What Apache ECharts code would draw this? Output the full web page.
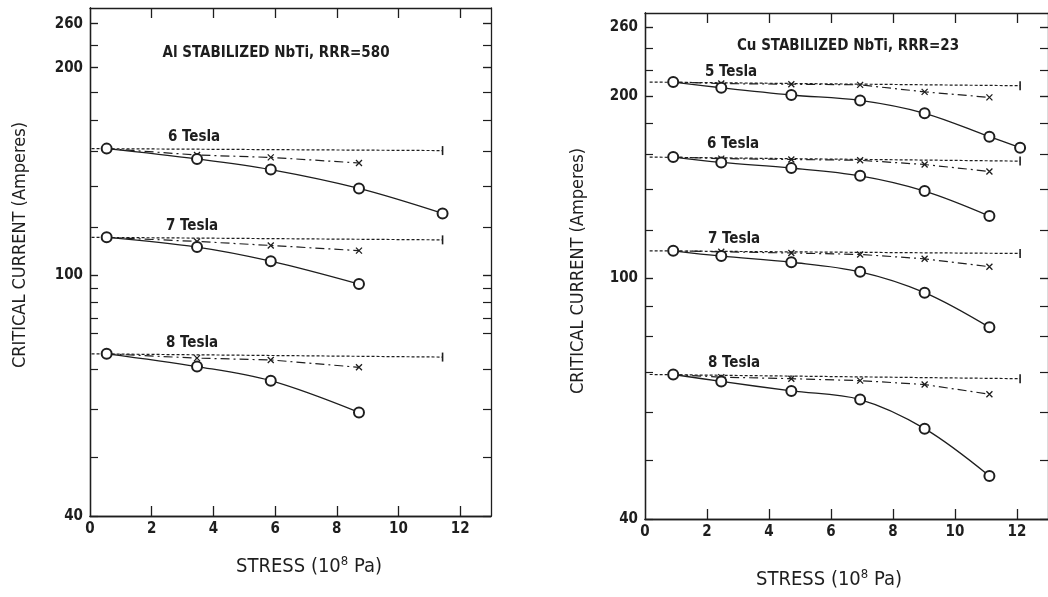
<!DOCTYPE html>
<html>
<head>
<meta charset="utf-8">
<title>Critical current vs stress</title>
<script src="https://cdn.jsdelivr.net/npm/echarts@6/dist/echarts.min.js"></script>
<style>
  html, body { margin: 0; background: #fff; }
  #chart { width: 1048px; height: 597px; }
</style>
</head>
<body>
<div id="chart"></div>
<script>
// ---- Al stabilized NbTi, RRR=580 (stress in 1e8 Pa, current in A) ----
var alStress = [0.54, 3.47, 5.86, 8.72, 11.43];
var al6Circle = [161.7, 155.5, 149.3, 139.0, 126.4];
var al7Circle = [115.4, 111.2, 105.4, 96.6];
var al8Circle = [74.1, 70.6, 66.9, 59.3];
var alCrossStress = [0.54, 3.47, 5.86, 8.72];
var al6Cross = [161.7, 157.8, 156.4, 153.1];
var al7Cross = [115.4, 113.6, 111.9, 109.7];
var al8Cross = [74.1, 72.9, 72.4, 70.4];
var alRefStress = [0.05, 11.43];
var al6Ref = [161.7, 160.5];
var al7Ref = [115.4, 114.3];
var al8Ref = [74.1, 73.2];

// ---- Cu stabilized NbTi, RRR=23 ----
var cuStress = [0.91, 2.46, 4.72, 6.94, 9.02, 11.11, 12.1];
var cu5Circle = [210.7, 206.2, 200.6, 196.5, 187.1, 171.2, 164.2];
var cu6Circle = [158.4, 155.2, 151.9, 147.5, 139.2, 126.6];
var cu7Circle = [110.9, 108.7, 106.2, 102.4, 94.6, 82.9];
var cu8Circle = [69.3, 67.5, 65.1, 63.0, 56.4, 47.1];
var cuCrossStress = [0.91, 2.46, 4.72, 6.94, 9.02, 11.11];
var cu5Cross = [210.7, 209.5, 209.0, 208.5, 203.0, 198.8];
var cu6Cross = [158.4, 157.5, 157.0, 156.5, 154.0, 150.0];
var cu7Cross = [110.9, 110.5, 110.0, 109.4, 107.6, 104.4];
var cu8Cross = [69.3, 68.6, 68.2, 67.7, 66.7, 64.3];
var cuRefStress = [0.15, 12.1];
var cu5Ref = [210.7, 207.8];
var cu6Ref = [158.4, 156.0];
var cu7Ref = [110.9, 109.8];
var cu8Ref = [69.3, 68.2];

// ---- axis ticks / labels ----
var xLabels = [0, 2, 4, 6, 8, 10, 12];
var xTicks = [2, 4, 6, 8, 10, 12];
var alYTicks = [50, 60, 70, 80, 85, 90, 95, 100, 120, 140, 160, 180, 200, 220, 240, 260];
var cuYTicks = [50, 60, 70, 80, 90, 100, 120, 140, 160, 180, 200, 220, 240, 260];
// the left panel prints "200" on the 220 tick in the original figure
var alYLabelAt = [40, 100, 220, 260];
var alYLabelText = ['40', '100', '200', '260'];
var cuYLabelAt = [40, 100, 200, 260];
var cuYLabelText = ['40', '100', '200', '260'];

var INK = '#1e1e1e';
var FONT = '"Liberation Sans Narrow", "DejaVu Sans Condensed", sans-serif';

function pts(xs, ys) {
  return ys.map(function (v, i) { return [xs[i], v]; });
}

// kind: 'label' (labels only), 'tick' (inward ticks only)
function xAxisOf(grid, pos, kind) {
  return {
    gridIndex: grid, type: 'value', min: 0, max: 13, position: pos,
    axisLine: { show: true, onZero: false, lineStyle: { color: INK, width: 1.3 } },
    axisTick: kind === 'tick'
      ? { show: true, inside: true, length: 10, customValues: xTicks, lineStyle: { color: INK, width: 1.3 } }
      : { show: false },
    axisLabel: kind === 'label'
      ? { show: true, customValues: xLabels, color: INK, fontSize: 15, fontWeight: 'bold', fontFamily: FONT, margin: 6 }
      : { show: false },
    splitLine: { show: false }
  };
}

function yAxisOf(grid, pos, kind, ticks, labelAt, labelText, max) {
  return {
    gridIndex: grid, type: 'log', logBase: 10, min: 40, max: max, position: pos,
    axisLine: { show: true, onZero: false, lineStyle: { color: INK, width: 1.3 } },
    axisTick: kind === 'tick'
      ? { show: true, inside: true, length: 8, customValues: labelAt.concat(ticks), lineStyle: { color: INK, width: 1.2 } }
      : { show: false },
    axisLabel: kind === 'label' ? {
      show: true, customValues: labelAt, color: INK, fontSize: 15, fontWeight: 'bold', fontFamily: FONT, margin: 7,
      formatter: function (v) {
        var i = labelAt.indexOf(Math.round(v));
        return i >= 0 ? labelText[i] : '';
      }
    } : { show: false },
    splitLine: { show: false }
  };
}

function circleSeries(xi, yi, data) {
  return {
    type: 'line', xAxisIndex: xi, yAxisIndex: yi, data: data, smooth: 0.35,
    symbol: 'emptyCircle', symbolSize: 10, z: 5,
    lineStyle: { color: INK, width: 1.3 },
    itemStyle: { color: INK, borderColor: INK, borderWidth: 1.3 }
  };
}

function crossSeries(xi, yi, data) {
  return {
    type: 'line', xAxisIndex: xi, yAxisIndex: yi, data: data, z: 4,
    symbol: 'path://M0,0L10,10M10,0L0,10',
    symbolSize: function (v, p) { return p.dataIndex === 0 ? 0 : 6; },
    lineStyle: { color: INK, width: 1.2, type: [9, 4, 2, 4] },
    itemStyle: { color: 'rgba(0,0,0,0)', borderColor: INK, borderWidth: 1.3 }
  };
}

function refSeries(xi, yi, data) {
  return {
    type: 'line', xAxisIndex: xi, yAxisIndex: yi, data: data, z: 3,
    symbol: 'rect',
    symbolSize: function (v, p) { return p.dataIndex === 0 ? 0 : [1.6, 9]; },
    lineStyle: { color: INK, width: 1.2, type: [3, 2] },
    itemStyle: { color: INK }
  };
}

// axes: per grid -> x: [labels bottom, ticks bottom, ticks top], y: [labels left, ticks left, ticks right]
var series = [
  refSeries(0, 0, pts(alRefStress, al6Ref)),
  refSeries(0, 0, pts(alRefStress, al7Ref)),
  refSeries(0, 0, pts(alRefStress, al8Ref)),
  crossSeries(0, 0, pts(alCrossStress, al6Cross)),
  crossSeries(0, 0, pts(alCrossStress, al7Cross)),
  crossSeries(0, 0, pts(alCrossStress, al8Cross)),
  circleSeries(0, 0, pts(alStress, al6Circle)),
  circleSeries(0, 0, pts(alStress, al7Circle)),
  circleSeries(0, 0, pts(alStress, al8Circle)),

  refSeries(3, 3, pts(cuRefStress, cu5Ref)),
  refSeries(3, 3, pts(cuRefStress, cu6Ref)),
  refSeries(3, 3, pts(cuRefStress, cu7Ref)),
  refSeries(3, 3, pts(cuRefStress, cu8Ref)),
  crossSeries(3, 3, pts(cuCrossStress, cu5Cross)),
  crossSeries(3, 3, pts(cuCrossStress, cu6Cross)),
  crossSeries(3, 3, pts(cuCrossStress, cu7Cross)),
  crossSeries(3, 3, pts(cuCrossStress, cu8Cross)),
  circleSeries(3, 3, pts(cuStress, cu5Circle)),
  circleSeries(3, 3, pts(cuStress, cu6Circle)),
  circleSeries(3, 3, pts(cuStress, cu7Circle)),
  circleSeries(3, 3, pts(cuStress, cu8Circle))
];

function txt(x, y, s, size, opts) {
  opts = opts || {};
  var style = {
    text: s, fill: INK, font: (opts.bold ? 'bold ' : '') + size + 'px ' + FONT,
    align: opts.align || 'left', verticalAlign: 'middle'
  };
  if (opts.rich) style.rich = opts.rich;
  return { type: 'text', x: x, y: y, rotation: opts.rotation || 0, style: style, z: 10 };
}

var supRich = {
  sup: { fontSize: 13, fontFamily: FONT, fill: INK, verticalAlign: 'top', padding: [0, 0, 10, 0] }
};

var graphics = [
  txt(276, 53, 'Al STABILIZED NbTi, RRR=580', 15, { align: 'center', bold: true }),
  txt(848, 46, 'Cu STABILIZED NbTi, RRR=23', 15, { align: 'center', bold: true }),
  txt(168, 137, '6 Tesla', 15, { bold: true }),
  txt(166, 226, '7 Tesla', 15, { bold: true }),
  txt(166, 343, '8 Tesla', 15, { bold: true }),
  txt(705, 72, '5 Tesla', 15, { bold: true }),
  txt(707, 144, '6 Tesla', 15, { bold: true }),
  txt(708, 239, '7 Tesla', 15, { bold: true }),
  txt(708, 363, '8 Tesla', 15, { bold: true }),
  txt(20, 245, 'CRITICAL CURRENT (Amperes)', 18, { align: 'center', rotation: Math.PI / 2 }),
  txt(578, 271, 'CRITICAL CURRENT (Amperes)', 18, { align: 'center', rotation: Math.PI / 2 }),
  txt(309, 567, 'STRESS (10{sup|8} Pa)', 20, { align: 'center', rich: supRich }),
  txt(829, 580, 'STRESS (10{sup|8} Pa)', 20, { align: 'center', rich: supRich })
];

var chart = echarts.init(document.getElementById('chart'));
chart.setOption({
  backgroundColor: '#fff',
  animation: false,
  grid: [
    { left: 90, top: 8, width: 401, height: 508 },
    { left: 645, top: 13, width: 404, height: 506 }
  ],
  xAxis: [
    xAxisOf(0, 'bottom', 'label'), xAxisOf(0, 'bottom', 'tick'), xAxisOf(0, 'top', 'tick'),
    xAxisOf(1, 'bottom', 'label'), xAxisOf(1, 'bottom', 'tick'), xAxisOf(1, 'top', 'tick')
  ],
  yAxis: [
    yAxisOf(0, 'left', 'label', alYTicks, alYLabelAt, alYLabelText, 276),
    yAxisOf(0, 'left', 'tick', alYTicks, alYLabelAt, alYLabelText, 276),
    yAxisOf(0, 'right', 'tick', alYTicks, alYLabelAt, alYLabelText, 276),
    yAxisOf(1, 'left', 'label', cuYTicks, cuYLabelAt, cuYLabelText, 274),
    yAxisOf(1, 'left', 'tick', cuYTicks, cuYLabelAt, cuYLabelText, 274),
    yAxisOf(1, 'right', 'tick', cuYTicks, cuYLabelAt, cuYLabelText, 274)
  ],
  series: series,
  graphic: graphics
});
</script>
</body>
</html>
